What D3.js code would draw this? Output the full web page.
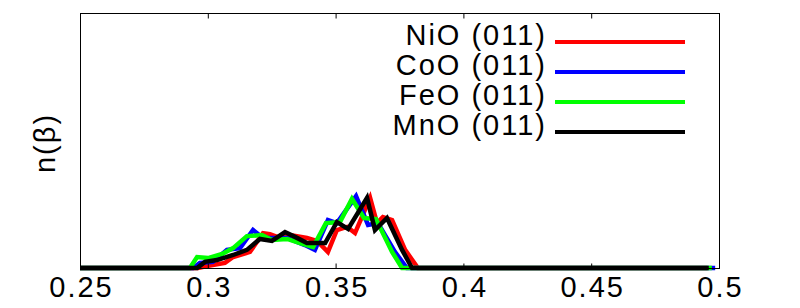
<!DOCTYPE html>
<html>
<head>
<meta charset="utf-8">
<script src="https://cdn.jsdelivr.net/npm/d3@7"></script>
<style>
  body { margin: 0; background: #fff; }
  text { font-family: "Liberation Sans", Arial, sans-serif; fill: #000; letter-spacing: 2px; }
</style>
</head>
<body>
<svg id="chart" width="800" height="308"></svg>
<script>
// beta values and n(beta) (arbitrary units, 0..1 of the axis height)
var seriesNames = ["NiO (011)", "CoO (011)", "FeO (011)", "MnO (011)"];
var seriesColors = ["#ff0000", "#0000ff", "#00ff00", "#000000"];

var nioBeta = [0.25, 0.2962, 0.2997, 0.3067, 0.3099, 0.3165, 0.3216, 0.3243, 0.3282, 0.3322, 0.3388, 0.3427, 0.3470, 0.3505, 0.3545, 0.3576, 0.3635, 0.3662, 0.3685, 0.3721, 0.3772, 0.3822, 0.4955];
var nioN    = [0, 0, 0.008, 0.020, 0.043, 0.063, 0.137, 0.133, 0.118, 0.129, 0.118, 0.106, 0.063, 0.149, 0.161, 0.137, 0.275, 0.176, 0.200, 0.188, 0.071, 0, 0];

var cooBeta = [0.25, 0.2942, 0.2969, 0.3020, 0.3075, 0.3126, 0.3177, 0.3216, 0.3310, 0.3380, 0.3419, 0.3470, 0.3505, 0.3580, 0.3627, 0.3666, 0.3732, 0.3779, 0.4985];
var cooN    = [0, 0, 0.020, 0.024, 0.071, 0.078, 0.149, 0.118, 0.118, 0.090, 0.071, 0.188, 0.176, 0.282, 0.169, 0.176, 0.063, 0, 0];

var feoBeta = [0.25, 0.2930, 0.2958, 0.3001, 0.3056, 0.3099, 0.3153, 0.3212, 0.3251, 0.3310, 0.3361, 0.3412, 0.3462, 0.3517, 0.3564, 0.3611, 0.3658, 0.3721, 0.3760, 0.4972];
var feoN    = [0, 0, 0.043, 0.039, 0.055, 0.078, 0.125, 0.129, 0.110, 0.114, 0.098, 0.082, 0.176, 0.180, 0.271, 0.196, 0.192, 0.063, 0, 0];

var mnoBeta = [0.25, 0.2958, 0.2989, 0.3036, 0.3099, 0.3153, 0.3204, 0.3251, 0.3302, 0.3341, 0.3388, 0.3459, 0.3505, 0.3549, 0.3623, 0.3654, 0.3701, 0.3760, 0.3799, 0.4960];
var mnoN    = [0, 0, 0.024, 0.031, 0.051, 0.071, 0.114, 0.106, 0.141, 0.122, 0.098, 0.098, 0.180, 0.153, 0.275, 0.149, 0.196, 0.071, 0, 0];

var xTicks = [0.25, 0.3, 0.35, 0.4, 0.45, 0.5];
var xTickLabels = ["0.25", "0.3", "0.35", "0.4", "0.45", "0.5"];

var allBeta = [nioBeta, cooBeta, feoBeta, mnoBeta];
var allN = [nioN, cooN, feoN, mnoN];

var svg = d3.select("#chart");
var plotL = 80, plotR = 719, plotT = 13, plotB = 268;
var fontSize = "29px";

var x = d3.scaleLinear().domain([0.25, 0.5]).range([plotL, plotR]);
var y = d3.scaleLinear().domain([0, 1]).range([plotB, plotT]);

// data lines
var line = d3.line()
  .x(d => x(d[0]))
  .y(d => y(d[1]));

svg.append("g")
  .selectAll("path")
  .data(seriesNames.map((name, i) => ({
    color: seriesColors[i],
    points: allBeta[i].map((b, j) => [b, allN[i][j]])
  })))
  .enter()
  .append("path")
  .attr("d", d => line(d.points))
  .attr("fill", "none")
  .attr("stroke", d => d.color)
  .attr("stroke-width", 4.5)
  .attr("stroke-linejoin", "miter");

// frame
svg.append("rect")
  .attr("x", plotL + 0.5)
  .attr("y", plotT + 0.5)
  .attr("width", plotR - plotL)
  .attr("height", plotB - plotT)
  .attr("fill", "none")
  .attr("stroke", "#000")
  .attr("stroke-width", 1);

// ticks on bottom and top, pointing inward
var bottomAxis = d3.axisBottom(x)
  .tickValues(xTicks)
  .tickFormat((d, i) => xTickLabels[i])
  .tickSizeInner(-5)
  .tickSizeOuter(0);

var gb = svg.append("g")
  .attr("transform", "translate(0," + (plotB + 0.5) + ")")
  .call(bottomAxis);
gb.select(".domain").remove();
gb.selectAll("text")
  .attr("font-size", fontSize)
  .attr("font-family", "Liberation Sans, Arial, sans-serif")
  .attr("dy", null)
  .attr("x", 1)
  .attr("y", 28);

var topAxis = d3.axisTop(x)
  .tickValues(xTicks)
  .tickFormat("")
  .tickSizeInner(-5)
  .tickSizeOuter(0);
var gt = svg.append("g")
  .attr("transform", "translate(0," + (plotT + 0.5) + ")")
  .call(topAxis);
gt.select(".domain").remove();

// y label
svg.append("text")
  .attr("transform", "translate(55,143) rotate(-90)")
  .attr("text-anchor", "middle")
  .attr("font-size", fontSize)
  .text("n(β)");

// legend
var legend = svg.append("g")
  .selectAll("g")
  .data(seriesNames)
  .enter()
  .append("g")
  .attr("transform", (d, i) => "translate(0," + (42 + i * 30) + ")");

legend.append("text")
  .attr("x", 547)
  .attr("y", 3)
  .attr("text-anchor", "end")
  .attr("font-size", fontSize)
  .text(d => d);

legend.append("line")
  .attr("x1", 555)
  .attr("x2", 685)
  .attr("y1", 0)
  .attr("y2", 0)
  .attr("stroke", (d, i) => seriesColors[i])
  .attr("stroke-width", 4);
</script>
</body>
</html>
